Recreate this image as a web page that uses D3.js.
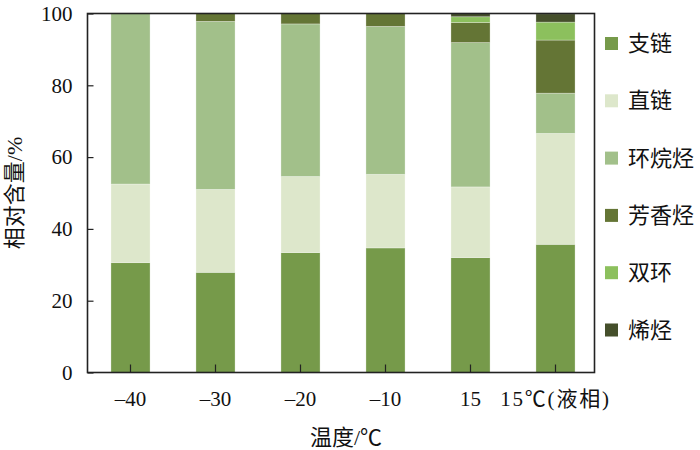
<!DOCTYPE html>
<html><head><meta charset="utf-8">
<script src="https://cdn.jsdelivr.net/npm/d3@7"></script>
<style>body{margin:0;background:#fff}</style>
</head><body>
<svg id="c" width="700" height="450"></svg>
<script>
const categories = ["-40","-30","-20","-10","15","15℃(液相)"];
const seriesNames = ["支链","直链","环烷烃","芳香烃","双环","烯烃"];
const branched  = [30.6, 27.9, 33.4, 34.7, 32.0, 35.7];
const linear    = [21.9, 23.1, 21.2, 20.5, 19.7, 30.9];
const naphthene = [47.5, 46.8, 42.5, 41.2, 40.2, 11.2];
const aromatic  = [0, 2.2, 2.9, 3.6, 5.6, 14.8];
const bicyclic  = [0, 0, 0, 0, 1.6, 5.0];
const olefin    = [0, 0, 0, 0, 0.9, 2.3];
const yTicks = [0,20,40,60,80,100];
const colors = ["#769a4a","#dde7cb","#a2c08a","#647535","#8cc05d","#454f2b"];

const seriesValues = [branched, linear, naphthene, aromatic, bicyclic, olefin];
const rows = categories.map((c,i)=>{const r={cat:c}; seriesNames.forEach((s,j)=>r[s]=seriesValues[j][i]); return r;});
const stack = d3.stack().keys(seriesNames)(rows);

const svg = d3.select("#c");
const L=87.5, R=594.5, T=13.5, B=372.5;
const x = d3.scaleBand().domain(categories).range([88,598]).paddingInner(0.54).paddingOuter(0.27);
const y = d3.scaleLinear().domain([0,100]).range([B,T]);
const serif = "'Liberation Serif','Times New Roman','Noto Sans CJK SC',serif";

svg.append("g").selectAll("g").data(stack).join("g")
  .attr("fill",(d,i)=>colors[i])
  .selectAll("rect").data(d=>d).join("rect")
  .attr("x",d=>x(d.data.cat)).attr("width",x.bandwidth())
  .attr("y",d=>y(d[1])).attr("height",d=>Math.max(0,y(d[0])-y(d[1])))
  .attr("stroke","rgba(255,255,255,0.35)").attr("stroke-width",0.8);

// frame
svg.append("rect").attr("x",L).attr("y",T).attr("width",R-L).attr("height",B-T)
  .attr("fill","none").attr("stroke","#222").attr("stroke-width",1.6);

// x axis
const xa = svg.append("g").attr("transform",`translate(0,${B})`)
  .call(d3.axisBottom(x).tickSizeInner(-8).tickSizeOuter(0).tickPadding(19).tickFormat(d=>d.replace("-","\u2013")));
xa.select(".domain").remove();
xa.selectAll("line").attr("stroke","#222").attr("stroke-width",1.2);
xa.selectAll("text").attr("font-family",serif).attr("font-size",21).attr("fill","#111")
  .attr("letter-spacing",(d,i)=>i===categories.length-1?"1.8px":null);

// y axis
const ya = svg.append("g").attr("transform",`translate(${L},0)`)
  .call(d3.axisLeft(y).tickValues(yTicks).tickSizeInner(-6).tickSizeOuter(0).tickPadding(15));
ya.select(".domain").remove();
ya.selectAll("line").attr("stroke","#222").attr("stroke-width",1.2);
ya.selectAll("text").attr("font-family",serif).attr("font-size",21).attr("fill","#111");

// titles
svg.append("text").attr("x",346).attr("y",445).attr("text-anchor","middle")
  .attr("font-family",serif).attr("font-size",22).attr("fill","#111").text("温度/℃");
svg.append("text").attr("transform",`translate(22,193) rotate(-90)`).attr("text-anchor","middle")
  .attr("font-family",serif).attr("font-size",22).attr("fill","#111").text("相对含量/%");

// legend
const lg = svg.append("g").selectAll("g").data(seriesNames).join("g")
  .attr("transform",(d,i)=>`translate(605,${43+i*57.3})`);
lg.append("rect").attr("x",0).attr("y",-6).attr("width",13).attr("height",13).attr("fill",(d,i)=>colors[i]);
lg.append("text").attr("x",23).attr("y",8).attr("font-family",serif).attr("font-size",22).attr("fill","#111").text(d=>d);
</script>
</body></html>
